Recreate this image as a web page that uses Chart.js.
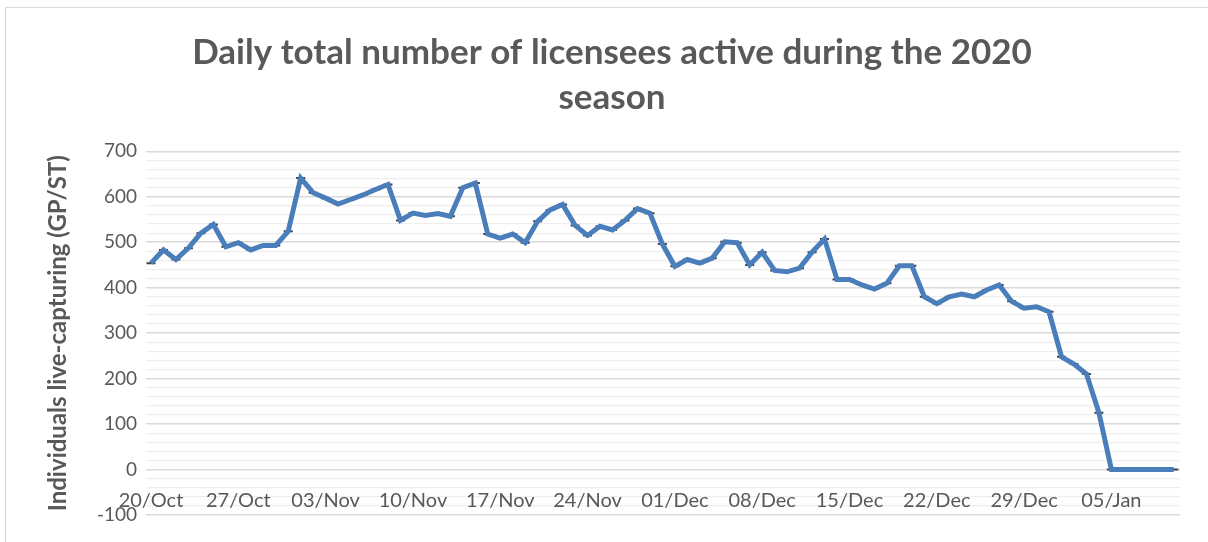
<!DOCTYPE html>
<html>
<head>
  <title>Daily total number of licensees active during the 2020 season</title>
  <script src="https://cdn.jsdelivr.net/npm/chart.js"></script>
  <style>
    body {
      margin: 0;
      background: #fff;
      overflow: hidden;
    }
    .wrap {
      position: relative;
      width: 1208px;
      height: 542px;
    }
    /* chart frame, cropped on the right and bottom like the source */
    .frame {
      position: absolute;
      left: 5px;
      top: 7px;
      width: 1220px;
      height: 560px;
      border: 1px solid #d9d9d9;
    }
    canvas {
      position: absolute;
      left: 0;
      top: 0;
    }
  </style>
</head>
<body>
  <div class="wrap">
    <div class="frame"></div>
    <canvas id="chart" width="1208" height="542"></canvas>
  </div>

  <script>
    // day 0 = 20/Oct, one value per day up to 10/Jan
    const licensees = [
      454, 483, 462, 487, 520, 539, 490, 499, 483, 493,
      493, 524, 641, 609, 597, 584, 594, 604, 616, 627,
      548, 564, 559, 563, 557, 620, 630, 518, 509, 518,
      499, 546, 571, 583, 537, 515, 535, 527, 548, 574,
      564, 496, 447, 462, 454, 465, 501, 499, 450, 478,
      438, 435, 443, 478, 507, 418, 418, 406, 397, 410,
      448, 448, 380, 365, 380, 386, 380, 395, 406, 370,
      355, 358, 347, 248, 232, 210, 125, 0, 0, 0,
      0, 0, 0
    ];

    const tickDays = [0, 7, 14, 21, 28, 35, 42, 49, 56, 63, 70, 77];
    const tickLabels = ['20/Oct', '27/Oct', '03/Nov', '10/Nov', '17/Nov', '24/Nov',
                        '01/Dec', '08/Dec', '15/Dec', '22/Dec', '29/Dec', '05/Jan'];

    const titleLines = ['Daily total number of licensees active during the 2020', 'season'];
    const yTitle = 'Individuals live-capturing (GP/ST)';

    const points = licensees.map((v, i) => ({ x: i, y: v }));
    const grey = '#595959';
    const fam = 'Lato, "Open Sans", sans-serif';

    new Chart(document.getElementById('chart'), {
      type: 'line',
      data: {
        datasets: [
          {
            label: 'Licensees',
            data: points,
            borderColor: '#4a7ebb',
            borderWidth: 5,
            pointRadius: 0,
            tension: 0,
            order: 1
          },
          {
            // dash markers sit under the line
            label: 'markers',
            data: points,
            showLine: false,
            pointStyle: 'line',
            pointRadius: 4.5,
            pointBorderColor: '#404040',
            pointBorderWidth: 2,
            order: 2
          }
        ]
      },
      options: {
        responsive: false,
        animation: false,
        layout: { padding: { left: 44, right: 28, top: 0, bottom: 27 } },
        plugins: {
          legend: { display: false },
          tooltip: { enabled: false },
          title: {
            display: true,
            text: titleLines,
            color: grey,
            font: { family: fam, size: 35, weight: 'bold', lineHeight: 1.29 },
            padding: { top: 30, bottom: 31 }
          }
        },
        scales: {
          x: {
            type: 'linear',
            position: { y: 0 },
            min: -0.4,
            max: 82.5,
            grid: { display: false },
            border: { display: false },
            afterBuildTicks: axis => {
              axis.ticks = tickDays.map(v => ({ value: v }));
            },
            ticks: {
              autoSkip: false,
              maxRotation: 0,
              padding: 11,
              color: grey,
              font: { family: fam, size: 20 },
              callback: v => tickLabels[tickDays.indexOf(v)]
            }
          },
          y: {
            min: -100,
            max: 700,
            afterFit: axis => { axis.width = 102; },
            border: { display: false },
            grid: {
              drawTicks: false,
              color: c => c.tick.value % 100 === 0 ? '#d9d9d9' : '#eeeeee',
              lineWidth: c => c.tick.value % 100 === 0 ? 1.6 : 1.2
            },
            ticks: {
              stepSize: 20,
              autoSkip: false,
              padding: 9,
              color: grey,
              font: { family: fam, size: 19 },
              callback: v => v % 100 === 0 ? v : ''
            },
            title: {
              display: true,
              text: yTitle,
              color: grey,
              font: { family: fam, size: 24, weight: 'bold' },
              padding: 0
            }
          }
        }
      }
    });
  </script>
</body>
</html>
